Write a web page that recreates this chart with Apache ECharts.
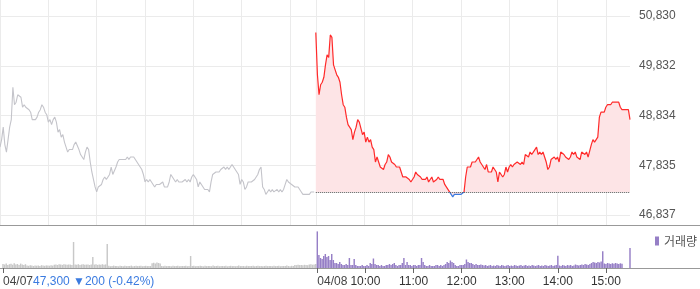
<!DOCTYPE html>
<html><head><meta charset="utf-8">
<script src="https://cdn.jsdelivr.net/npm/echarts@6/dist/echarts.min.js"></script>
<style>html,body{margin:0;padding:0;background:#fff}#c{width:700px;height:289px}</style>
</head><body><div id="c"></div>
<script>
// ---- data ----
const days = ['04/07', '04/08'];
const stepMinutes = 2;            // one category every 2 minutes, 09:00 - 15:30
const prevClose = 47300;          // 04/08 baseline (04/07 close)
const summary07 = { close: '47,300', change: '▼200', pct: '(-0.42%)' };
const yTicks = [46837, 47835, 48834, 49832, 50830];
const volumeMax = 400000;

const price07 = [
48200,48350,48600,48250,48100,48350,48600,48750,49400,49050,
49100,49250,49250,49200,49000,49050,49000,49000,48950,48900,
48750,48750,48750,48800,48900,48950,49050,49000,48900,48850,
48700,48750,48650,48750,48800,48700,48500,48550,48400,48450,
48300,48300,48100,48150,48150,48150,48250,48300,48300,48150,
48050,48000,47950,48100,48200,48150,47900,47700,47550,47400,
47300,47400,47400,47450,47550,47600,47550,47600,47650,47800,
47650,47650,47800,47900,47950,47950,47950,47950,47950,48000,
47950,48000,48000,48000,47950,47900,47900,47800,47750,47650,
47500,47550,47500,47550,47500,47500,47400,47450,47450,47450,
47450,47500,47400,47400,47400,47500,47650,47650,47550,47500,
47550,47500,47500,47500,47500,47550,47500,47550,47500,47600,
47650,47600,47550,47400,47500,47450,47400,47350,47350,47350,
47300,47500,47650,47650,47700,47700,47700,47750,47750,47800,
47750,47800,47750,47800,47850,47800,47800,47700,47650,47450,
47550,47500,47350,47400,47500,47500,47500,47500,47550,47600,
47650,47750,47800,47400,47350,47250,47300,47350,47300,47350,
47300,47300,47350,47300,47350,47300,47350,47450,47550,47500,
47500,47450,47450,47400,47400,47400,47350,47300,47250,47250,
47250,47250,47250,47300,47300,47300];

const price08 = [
50500,49650,49250,49450,49500,49600,49850,50050,50000,50450,
50400,49850,49750,49650,49600,49500,49250,49050,49000,48800,
48650,48600,48550,48350,48500,48600,48750,48700,48700,48450,
48500,48300,48400,48300,48350,48200,48150,47900,48000,47900,
47800,47800,47750,47850,47900,48050,48000,47900,47900,47850,
47800,47800,47800,47700,47600,47600,47600,47600,47550,47500,
47550,47600,47700,47650,47650,47600,47550,47550,47550,47600,
47500,47550,47600,47500,47500,47550,47600,47550,47550,47550,
47450,47400,47350,47350,47250,47200,47250,47250,47250,47250,
47250,47250,47300,47600,47800,47800,47800,47900,47900,47900,
47950,48000,47900,47850,47850,47750,47850,47700,47700,47700,
47800,47800,47700,47500,47700,47700,47600,47650,47800,47700,
47800,47850,47800,47850,47850,47900,47900,47850,47900,47850,
48050,48050,48000,48100,48050,48100,48100,48200,48050,48100,
48050,48100,48100,47900,47750,47800,47950,47950,48000,47950,
48000,47900,48100,48100,48050,48000,48000,47950,48000,48100,
48050,48100,48000,48000,47950,48100,48100,48050,48100,48000,
48000,48250,48350,48300,48300,48400,48800,48900,48900,48900,
49000,49050,49050,49050,49100,49100,49100,49100,49100,49000,
48950,48950,48950,48950,48950,48750];

const volume07 = [
40000,35000,45000,30000,38000,42000,33000,47000,36000,40000,31000,44000,35000,30000,38000,
25000,22000,27000,24000,20000,26000,23000,25000,21000,28000,24000,22000,26000,25000,23000,27000,24000,
33000,36000,30000,38000,34000,31000,37000,35000,32000,36000,34000,30000,
260000,
36000,33000,38000,31000,35000,37000,32000,34000,36000,30000,35000,
110000,
34000,37000,31000,35000,33000,38000,32000,36000,
240000,
22000,18000,20000,24000,19000,21000,17000,23000,20000,18000,22000,19000,21000,20000,24000,18000,20000,22000,19000,21000,23000,18000,20000,22000,19000,21000,20000,
48000,52000,45000,55000,50000,46000,
20000,18000,22000,19000,21000,20000,17000,23000,19000,20000,22000,18000,21000,20000,19000,23000,18000,21000,
120000,
20000,22000,18000,21000,19000,23000,20000,17000,22000,19000,21000,20000,18000,24000,19000,20000,
22000,18000,21000,20000,19000,23000,17000,20000,22000,19000,21000,18000,20000,24000,19000,21000,
20000,18000,22000,19000,21000,20000,23000,18000,20000,22000,19000,21000,17000,20000,22000,19000,
21000,20000,18000,23000,19000,20000,22000,18000,21000,20000,19000,24000,20000,18000,22000,21000,
30000,28000,33000,29000,31000,27000,32000,30000,28000,
35000,38000,33000,36000,40000];

const volume08 = [
366000,
130000,100000,90000,120000,140000,110000,120000,80000,140000,80000,
50000,50000,40000,60000,40000,30000,30000,40000,30000,
100000,
30000,30000,
90000,
30000,20000,20000,20000,30000,20000,20000,30000,20000,
50000,40000,
95000,
40000,30000,30000,20000,30000,20000,20000,30000,30000,40000,30000,40000,
50000,
30000,20000,30000,30000,50000,
100000,
30000,
60000,
30000,30000,20000,30000,30000,20000,30000,30000,
100000,
60000,
30000,20000,20000,30000,20000,20000,20000,30000,30000,20000,30000,20000,30000,
40000,60000,50000,75000,60000,50000,
30000,20000,20000,30000,30000,30000,40000,
85000,
60000,50000,50000,40000,30000,40000,30000,30000,35000,30000,
25000,30000,20000,25000,30000,20000,25000,20000,30000,25000,20000,30000,25000,20000,25000,30000,
20000,25000,20000,30000,25000,20000,25000,30000,20000,25000,30000,20000,25000,20000,30000,25000,
20000,25000,30000,20000,25000,20000,30000,25000,20000,25000,30000,20000,25000,30000,
123000,
25000,20000,30000,25000,20000,30000,25000,30000,20000,25000,35000,30000,25000,30000,35000,30000,40000,35000,30000,40000,
50000,60000,55000,50000,60000,55000,65000,
167000,
45000,40000,50000,45000,40000,48000,42000,50000,45000,40000,47000,43000,
0,0,0,0,
200000];

// ---- categories ----
const pad = n => (n < 10 ? '0' : '') + n;
const categories = [];
days.forEach(d => {
  for (let m = 0; m <= 390; m += stepMinutes) {
    categories.push(d + ' ' + pad(9 + Math.floor(m / 60)) + ':' + pad(m % 60));
  }
});
const perDay = categories.length / 2;
const nulls = new Array(perDay).fill(null);

const RED = '#ff2a2a', BLUE = '#3b7be0', GREY_LINE = '#c4c4ca';
const PURPLE = '#967fc6', GREY_VOL = '#c8c8c8';
const GRID = '#ebebeb';
const FONT = 'Liberation Sans, Arial, sans-serif';

const isHour = i => (i % perDay) % 30 === 0;
const isTick = i => i === 0 || (i >= perDay && isHour(i) && i % perDay <= 180);
const isTimeLabel = i => i > perDay && isHour(i) && i % perDay <= 180;

const volData = volume07.map(v => ({ value: v, itemStyle: { color: GREY_VOL } })).concat(volume08);

const chart = echarts.init(document.getElementById('c'), null, { renderer: 'canvas' });
chart.setOption({
  animation: false,
  backgroundColor: '#fff',
  grid: [
    { left: 0, right: 70, top: 16, height: 199 },
    { left: 0, right: 70, top: 0, height: 225 },
    { left: 0, right: 70, top: 228, height: 40 }
  ],
  legend: {
    data: ['거래량'], left: 650, top: 230, icon: 'rect', itemWidth: 4, itemHeight: 9,
    textStyle: { fontSize: 12, color: '#555', fontFamily: 'Noto Sans CJK KR' }
  },
  visualMap: {
    show: false, type: 'piecewise', seriesIndex: 1, dimension: 1,
    pieces: [
      { gt: prevClose, lte: yTicks[yTicks.length - 1] * 2, color: RED },
      { gte: 0, lte: prevClose, color: BLUE }
    ]
  },
  xAxis: [
    { gridIndex: 0, type: 'category', data: categories, boundaryGap: false, show: false },
    { gridIndex: 1, type: 'category', data: categories, boundaryGap: false,
      axisLine: { show: false }, axisTick: { show: false }, axisLabel: { show: false },
      splitLine: { show: true, interval: i => isHour(i), lineStyle: { color: GRID, width: 1 } } },
    { gridIndex: 2, type: 'category', data: categories, boundaryGap: false, position: 'bottom',
      axisLine: { show: true, lineStyle: { color: '#999' } },
      axisTick: { show: true, interval: i => isTick(i), length: 5, lineStyle: { color: '#666' } },
      axisLabel: { interval: i => isTimeLabel(i), margin: 8, color: '#333', fontSize: 12, fontFamily: FONT,
        formatter: v => v.split(' ')[1] },
      splitLine: { show: false } },
    { gridIndex: 2, type: 'category', data: categories, boundaryGap: false, position: 'bottom',
      axisLine: { show: false }, axisTick: { show: false },
      axisLabel: { interval: i => i === 0 || i === perDay, align: 'left', margin: 8, color: '#444',
        fontSize: 12, fontFamily: FONT,
        formatter: (v, i) => i === 0
          ? v.split(' ')[0] + '{b|' + summary07.close + ' ' + summary07.change + ' ' + summary07.pct + '}'
          : v.split(' ')[0],
        rich: { b: { color: BLUE, fontSize: 12, fontFamily: FONT } } },
      splitLine: { show: false } }
  ],
  yAxis: [
    { gridIndex: 0, type: 'value', position: 'right', min: yTicks[0], max: yTicks[yTicks.length - 1],
      interval: (yTicks[yTicks.length - 1] - yTicks[0]) / (yTicks.length - 1),
      axisLine: { show: false }, axisTick: { show: false },
      axisLabel: { margin: 9, color: '#555', fontSize: 12, fontFamily: FONT,
        formatter: v => Math.round(v).toLocaleString('en-US') },
      splitLine: { lineStyle: { color: GRID } } },
    { gridIndex: 1, type: 'value', min: 0, max: 1, show: false },
    { gridIndex: 2, type: 'value', min: 0, max: volumeMax, show: false }
  ],
  series: [
    { name: '04/07', type: 'line', xAxisIndex: 0, yAxisIndex: 0, data: price07.concat(nulls),
      showSymbol: false, symbol: 'none', lineStyle: { color: GREY_LINE, width: 1.1 }, itemStyle: { color: GREY_LINE } },
    { name: '04/08', type: 'line', xAxisIndex: 0, yAxisIndex: 0, data: nulls.concat(price08),
      showSymbol: false, symbol: 'none', lineStyle: { width: 1.2 },
      areaStyle: { color: '#fde4e6', opacity: 1, origin: prevClose },
      markLine: { silent: true, symbol: 'none', animation: false, label: { show: false },
        lineStyle: { type: 'dotted', color: '#555', width: 1 },
        data: [[{ coord: [categories[perDay], prevClose] }, { coord: [categories[categories.length - 1], prevClose] }]] } },
    { name: '거래량', type: 'bar', xAxisIndex: 2, yAxisIndex: 2, data: volData,
      itemStyle: { color: PURPLE }, barCategoryGap: '10%' }
  ],
  graphic: [
    { type: 'line', silent: true, shape: { x1: 0, y1: 225.5, x2: 700, y2: 225.5 }, style: { stroke: '#999', lineWidth: 1 } },
    { type: 'line', silent: true, shape: { x1: 0, y1: 268.5, x2: 700, y2: 268.5 }, style: { stroke: '#999', lineWidth: 1 } }
  ]
});
</script></body></html>
